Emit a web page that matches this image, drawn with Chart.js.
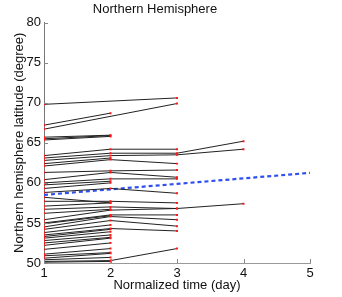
<!DOCTYPE html>
<html>
<head>
<meta charset="utf-8">
<script src="https://cdn.jsdelivr.net/npm/chart.js@4"></script>
<style>
  html, body { margin: 0; padding: 0; background: #fff; }
  #wrap { width: 342px; height: 297px; }
</style>
</head>
<body>
<div id="wrap"><canvas id="latChart" width="342" height="297"></canvas></div>
<script>
// days on the x axis
const days = [1, 2, 3, 4];

// latitude of each subject per normalized day (null = no sample that day)
const subjects = [
  [69.8, null, 70.6],
  [67.2, 68.7],
  [66.7, null, 69.9],
  [65.7, 65.95],
  [65.5, 65.9],
  [65.35, 65.8],
  [63.4, 64.2, 64.2],
  [63.1, 63.7, 63.7, 65.2],
  [62.8, 63.4, 63.5, 64.2],
  [62.4, 63.1],
  [62.1, 62.9, 62.4],
  [61.3, 61.5, 61.6],
  [60.4, 61.3, 60.7],
  [60.0, 60.5, 60.5],
  [59.75, 60.2],
  [59.3, 60.0],
  [58.8, 59.3, 58.7],
  [58.2, 57.5],
  [57.7, 57.7, 57.5],
  [57.1, 57.5],
  [56.7, 57.0, 56.8, 57.4],
  [56.2, 56.7],
  [55.4, 56.6, 56.8],
  [55.0, 56.0, 56.0],
  [54.9, 55.9],
  [54.5, 55.8, 55.4],
  [54.2, 55.3, 54.6],
  [53.8, 54.75],
  [53.5, 54.3, 54.0],
  [53.3, 54.2],
  [53.1, 53.9],
  [52.8, 53.5],
  [52.5, 53.2],
  [52.2, 53.1],
  [51.7, 52.5],
  [51.1, 51.8],
  [50.9, 51.3],
  [50.6, 51.2],
  [50.4, 50.7],
  [50.2, 50.3, 51.8],
  [50.1, 50.2]
];

// fitted trend (dashed blue)
const trendX = [1, 5];
const trendY = [58.5, 61.25];

const xTicks = [1, 2, 3, 4, 5];
const yTicks = [50, 55, 60, 65, 70, 75, 80];

const datasets = subjects.map(function (vals) {
  const pts = [];
  vals.forEach(function (v, i) {
    if (v !== null) pts.push({ x: days[i], y: v });
  });
  return {
    data: pts,
    borderColor: "#222",
    borderWidth: 1,
    pointStyle: "rect",
    pointRadius: 1.4,
    pointBackgroundColor: "#ff1a1a",
    pointBorderColor: "#ff1a1a",
    pointBorderWidth: 0,
    fill: false,
    tension: 0
  };
});

datasets.push({
  data: trendX.map(function (x, i) { return { x: x, y: trendY[i] }; }),
  borderColor: "#2f4ff0",
  borderWidth: 2.2,
  borderDash: [4, 3],
  pointRadius: 0,
  fill: false
});

// inward tick marks, matlab style
const innerTicks = {
  id: "innerTicks",
  afterDraw(chart) {
    const c = chart.ctx;
    const xs = chart.scales.x, ys = chart.scales.y;
    const a = chart.chartArea;
    c.save();
    c.strokeStyle = "#888";
    c.lineWidth = 1;
    c.beginPath();
    xTicks.forEach(function (t) {
      const px = Math.round(xs.getPixelForValue(t)) + 0.5;
      c.moveTo(px, a.bottom);
      c.lineTo(px, a.bottom - 4);
    });
    yTicks.forEach(function (t) {
      const py = Math.round(ys.getPixelForValue(t)) + 0.5;
      c.moveTo(a.left, py);
      c.lineTo(a.left + 4, py);
    });
    c.stroke();
    c.restore();
  }
};

const ctx = document.getElementById("latChart").getContext("2d");
const latChart = new Chart(ctx, {
  type: "line",
  data: { datasets: datasets },
  options: {
    responsive: false,
    animation: false,
    layout: { padding: { left: 0, right: 32, top: 0, bottom: 0 } },
    plugins: {
      legend: { display: false },
      tooltip: { enabled: false },
      title: {
        display: true,
        text: "Northern Hemisphere",
        color: "#111",
        font: { family: "Liberation Sans", size: 13, weight: "normal" },
        padding: { top: 2, bottom: 5 }
      }
    },
    scales: {
      x: {
        type: "linear",
        min: 1,
        max: 5,
        afterBuildTicks(scale) { scale.ticks = xTicks.map(function (v) { return { value: v }; }); },
        afterFit(scale) { scale.height = 34; },
        grid: { drawOnChartArea: false, drawTicks: false },
        border: { color: "#999", width: 1 },
        ticks: {
          color: "#111",
          padding: 3,
          font: { family: "Liberation Sans", size: 13 }
        },
        title: {
          display: true,
          text: "Normalized time (day)",
          color: "#111",
          font: { family: "Liberation Sans", size: 13 },
          padding: { top: 0, bottom: 4 }
        }
      },
      y: {
        min: 50,
        max: 80,
        afterBuildTicks(scale) { scale.ticks = yTicks.map(function (v) { return { value: v }; }); },
        afterFit(scale) { scale.width = 44; },
        grid: { drawOnChartArea: false, drawTicks: false },
        border: { color: "#777", width: 1 },
        ticks: {
          color: "#111",
          padding: 3,
          font: { family: "Liberation Sans", size: 13 }
        },
        title: {
          display: true,
          text: "Northern hemisphere latitude (degree)",
          color: "#111",
          font: { family: "Liberation Sans", size: 13 },
          padding: { top: 12, bottom: 0 }
        }
      }
    }
  },
  plugins: [innerTicks]
});
</script>
</body>
</html>
